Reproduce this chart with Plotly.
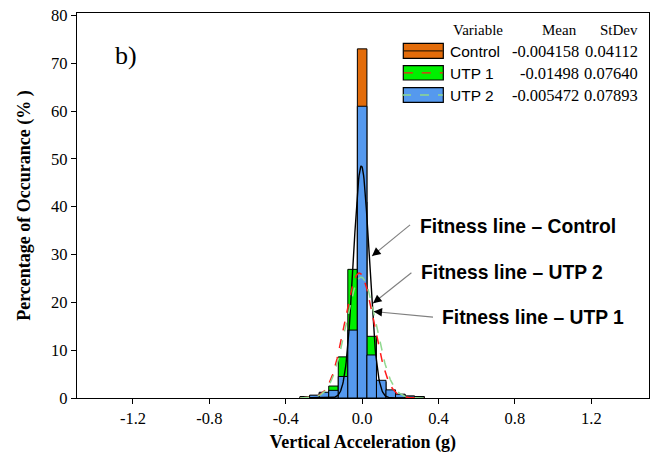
import numpy as np
import plotly.graph_objects as go

# ---------------- data ----------------
bin_centers = [-0.30, -0.25, -0.20, -0.15, -0.10, -0.05, 0.00, 0.05, 0.10, 0.15, 0.20, 0.25, 0.30]
control_pct = [0.1, 0.1, 0.2, 0.5, 2.5, 12.0, 73.0, 9.0, 2.0, 0.5, 0.2, 0.1, 0.1]
utp1_pct = [0.3, 0.5, 1.0, 2.5, 8.6, 26.9, 41.0, 12.9, 3.4, 1.4, 0.7, 0.4, 0.3]
utp2_pct = [0.3, 0.6, 1.2, 1.6, 4.5, 14.2, 61.0, 9.0, 3.7, 1.7, 0.8, 0.4, 0.3]
bin_width = 0.05

variables = ["Control", "UTP 1", "UTP 2"]
means = [-0.004158, -0.01498, -0.005472]
stdevs = [0.04112, 0.07640, 0.07893]
mean_text = ["-0.004158", "-0.01498", "-0.005472"]
stdev_text = ["0.04112", "0.07640", "0.07893"]

x_tickvals = [-1.2, -0.8, -0.4, 0.0, 0.4, 0.8, 1.2]
x_ticktext = ["-1.2", "-0.8", "-0.4", "0.0", "0.4", "0.8", "1.2"]
y_tickvals = [0, 10, 20, 30, 40, 50, 60, 70, 80]

bar_colors = ["#E36C0A", "#00F000", "#5599EE"]
fit_colors = ["#000000", "#FF1A1A", "#8FD88F"]
fit_dash = ["solid", "dash", "dash"]

SERIF = "Liberation Serif, Times New Roman, serif"
SANS = "Liberation Sans, Arial, sans-serif"

# page body margin is removed in the page script, so the figure fills the window
OFF = 0
W, H = 654, 454
L, R, T, B = 77, 5, 13, 56
X_RANGE = [-1.493, 1.502]
Y_RANGE = [0, 80.5]

fig = go.Figure()
for name, vals, col in zip(variables, [control_pct, utp1_pct, utp2_pct], bar_colors):
    fig.add_trace(go.Bar(x=bin_centers, y=vals, width=bin_width, name=name,
                         marker=dict(color=col, line=dict(color="black", width=1)),
                         showlegend=False, hoverinfo="skip"))

# fitted normal curves from the listed Mean / StDev (scaled to % per bin)
xs = np.linspace(bin_centers[0] - bin_width / 2, bin_centers[-1] + bin_width / 2, 300)
for name, m, s, col, d in zip(variables, means, stdevs, fit_colors, fit_dash):
    ys = 100 * bin_width * np.exp(-0.5 * ((xs - m) / s) ** 2) / (s * np.sqrt(2 * np.pi))
    fig.add_trace(go.Scatter(x=xs, y=ys, mode="lines", showlegend=False, hoverinfo="skip",
                             line=dict(color=col, width=1.4 if d == "solid" else 1.5, dash=d)))


def px(x):
    """window pixel x -> paper x"""
    return (x - OFF - L) / (W - L - R)


def py(y):
    """window pixel y -> paper y"""
    return (H - B - (y - OFF)) / (H - B - T)


shapes = []
annotations = []

# legend table
sw_x0, sw_x1 = 403.3, 443.3
rows_y = [(43.3, 58.3), (65.7, 80.0), (87.7, 102.3)]
line_cols = ["#3a1e00", "#FF1A1A", "#8FD88F"]
line_dash = ["solid", "dash", "dash"]
for i, (y0, y1) in enumerate(rows_y):
    shapes.append(dict(type="rect", xref="paper", yref="paper", x0=px(sw_x0), x1=px(sw_x1),
                       y0=py(y1), y1=py(y0), fillcolor=bar_colors[i],
                       line=dict(color="black", width=1.2)))
    ym = (y0 + y1) / 2
    xl0 = sw_x0 if i < 2 else 401.5
    shapes.append(dict(type="line", xref="paper", yref="paper", x0=px(xl0 + 0.5), x1=px(sw_x1 - 0.5),
                       y0=py(ym), y1=py(ym),
                       line=dict(color=line_cols[i], width=1.3, dash=line_dash[i])))
    annotations.append(dict(xref="paper", yref="paper", x=px(448), y=py(ym + 0.5), text=variables[i],
                            showarrow=False, xanchor="left", yanchor="middle",
                            font=dict(family=SANS, size=15.5, color="black")))
    annotations.append(dict(xref="paper", yref="paper", x=px(580.5), y=py(ym + 0.5), text=mean_text[i],
                            showarrow=False, xanchor="right", yanchor="middle",
                            font=dict(family=SERIF, size=16.5, color="black")))
    annotations.append(dict(xref="paper", yref="paper", x=px(640), y=py(ym + 0.5), text=stdev_text[i],
                            showarrow=False, xanchor="right", yanchor="middle",
                            font=dict(family=SERIF, size=16.5, color="black")))

for txt, xx, anc in [("Variable", 451, "left"), ("Mean", 578.5, "right"), ("StDev", 640, "right")]:
    annotations.append(dict(xref="paper", yref="paper", x=px(xx), y=py(30), text=txt,
                            showarrow=False, xanchor=anc, yanchor="middle",
                            font=dict(family=SERIF, size=15, color="black")))

# panel label
annotations.append(dict(xref="paper", yref="paper", x=px(113), y=py(55), text="b)",
                        showarrow=False, xanchor="left", yanchor="middle",
                        font=dict(family=SERIF, size=26, color="black")))

# fitness line callouts
callouts = [
    ("Fitness line \u2013 Control", 417.5, 226.5, (0.052, 29.7), (0.251, 36.2)),
    ("Fitness line \u2013 UTP 2", 419.0, 272.0, (0.057, 19.8), (0.258, 26.2)),
    ("Fitness line \u2013 UTP 1", 440.0, 317.5, (0.060, 18.1), (0.371, 16.9)),
]
sx = (W - L - R) / (X_RANGE[1] - X_RANGE[0])
sy = (H - B - T) / (Y_RANGE[1] - Y_RANGE[0])
for txt, tx, ty, head, tail in callouts:
    annotations.append(dict(xref="paper", yref="paper", x=px(tx), y=py(ty), text="<b>" + txt + "</b>",
                            showarrow=False, xanchor="left", yanchor="middle",
                            font=dict(family=SANS, size=19.3, color="black")))
    shapes.append(dict(type="line", xref="x", yref="y", x0=tail[0], y0=tail[1], x1=head[0], y1=head[1],
                       line=dict(color="#7F7F7F", width=1.1)))
    dxp = (tail[0] - head[0]) * sx
    dyp = -(tail[1] - head[1]) * sy
    n = (dxp ** 2 + dyp ** 2) ** 0.5
    annotations.append(dict(xref="x", yref="y", x=head[0], y=head[1], text="", showarrow=True,
                            ax=dxp / n * 10, ay=dyp / n * 10, arrowhead=2, arrowsize=1.3,
                            arrowwidth=1.3, arrowcolor="black", standoff=0))

fig.update_layout(
    width=W, height=H,
    margin=dict(l=L, r=R, t=T, b=B, autoexpand=False),
    paper_bgcolor="white", plot_bgcolor="white",
    barmode="overlay", bargap=0, hovermode=False,
    shapes=shapes, annotations=annotations,
    xaxis=dict(range=X_RANGE, tickvals=x_tickvals, ticktext=x_ticktext,
               showline=True, linecolor="black", linewidth=1.2, mirror=True,
               ticks="outside", ticklen=5, tickcolor="black", showgrid=False, zeroline=False,
               ticklabeloverflow="allow", automargin=False,
               tickfont=dict(family=SERIF, size=16.5, color="black"),
               title=dict(text="<b>Vertical Acceleration (g)</b>", standoff=8,
                          font=dict(family=SERIF, size=18, color="black"))),
    yaxis=dict(range=Y_RANGE, tickvals=y_tickvals,
               showline=True, linecolor="black", linewidth=1.2, mirror=True,
               ticks="outside", ticklen=5, tickcolor="black", showgrid=False, zeroline=False,
               ticklabeloverflow="allow", automargin=False,
               tickfont=dict(family=SERIF, size=16.5, color="black"),
               title=dict(text="<b>Percentage of Occurance (% )</b>", standoff=15,
                          font=dict(family=SERIF, size=18, color="black"))),
)

fig.write_html("out.html", config={"displayModeBar": False, "staticPlot": True},
               post_script="document.body.style.margin='0';document.body.style.overflow='hidden';")
